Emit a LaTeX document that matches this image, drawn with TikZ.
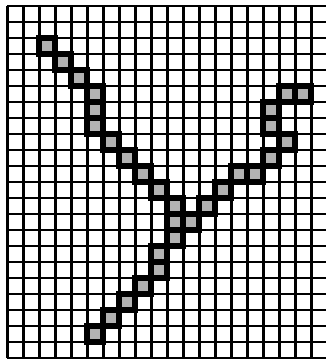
\documentclass[tikz,border=0pt]{standalone}
\begin{document}
\begin{tikzpicture}[x=0.5cm,y=-0.5cm]
\useasboundingbox (-0.456,-0.375) rectangle (19.919,22.188);
\clip (-0.456,-0.375) rectangle (19.919,22.188);
\draw[xstep=0.5cm,ystep=0.5cm,line width=2.2pt] (0,0) grid (21,22);
\filldraw[fill=black!30,line width=5pt] (2,2) rectangle (3,3);
\filldraw[fill=black!30,line width=5pt] (3,3) rectangle (4,4);
\filldraw[fill=black!30,line width=5pt] (4,4) rectangle (5,5);
\filldraw[fill=black!30,line width=5pt] (5,5) rectangle (6,6);
\filldraw[fill=black!30,line width=5pt] (5,6) rectangle (6,7);
\filldraw[fill=black!30,line width=5pt] (5,7) rectangle (6,8);
\filldraw[fill=black!30,line width=5pt] (6,8) rectangle (7,9);
\filldraw[fill=black!30,line width=5pt] (7,9) rectangle (8,10);
\filldraw[fill=black!30,line width=5pt] (8,10) rectangle (9,11);
\filldraw[fill=black!30,line width=5pt] (9,11) rectangle (10,12);
\filldraw[fill=black!30,line width=5pt] (10,12) rectangle (11,13);
\filldraw[fill=black!30,line width=5pt] (10,13) rectangle (11,14);
\filldraw[fill=black!30,line width=5pt] (11,13) rectangle (12,14);
\filldraw[fill=black!30,line width=5pt] (10,14) rectangle (11,15);
\filldraw[fill=black!30,line width=5pt] (9,15) rectangle (10,16);
\filldraw[fill=black!30,line width=5pt] (9,16) rectangle (10,17);
\filldraw[fill=black!30,line width=5pt] (8,17) rectangle (9,18);
\filldraw[fill=black!30,line width=5pt] (7,18) rectangle (8,19);
\filldraw[fill=black!30,line width=5pt] (6,19) rectangle (7,20);
\filldraw[fill=black!30,line width=5pt] (5,20) rectangle (6,21);
\filldraw[fill=black!30,line width=5pt] (12,12) rectangle (13,13);
\filldraw[fill=black!30,line width=5pt] (13,11) rectangle (14,12);
\filldraw[fill=black!30,line width=5pt] (14,10) rectangle (15,11);
\filldraw[fill=black!30,line width=5pt] (15,10) rectangle (16,11);
\filldraw[fill=black!30,line width=5pt] (16,9) rectangle (17,10);
\filldraw[fill=black!30,line width=5pt] (17,8) rectangle (18,9);
\filldraw[fill=black!30,line width=5pt] (16,7) rectangle (17,8);
\filldraw[fill=black!30,line width=5pt] (16,6) rectangle (17,7);
\filldraw[fill=black!30,line width=5pt] (17,5) rectangle (18,6);
\filldraw[fill=black!30,line width=5pt] (18,5) rectangle (19,6);
\end{tikzpicture}
\end{document}
